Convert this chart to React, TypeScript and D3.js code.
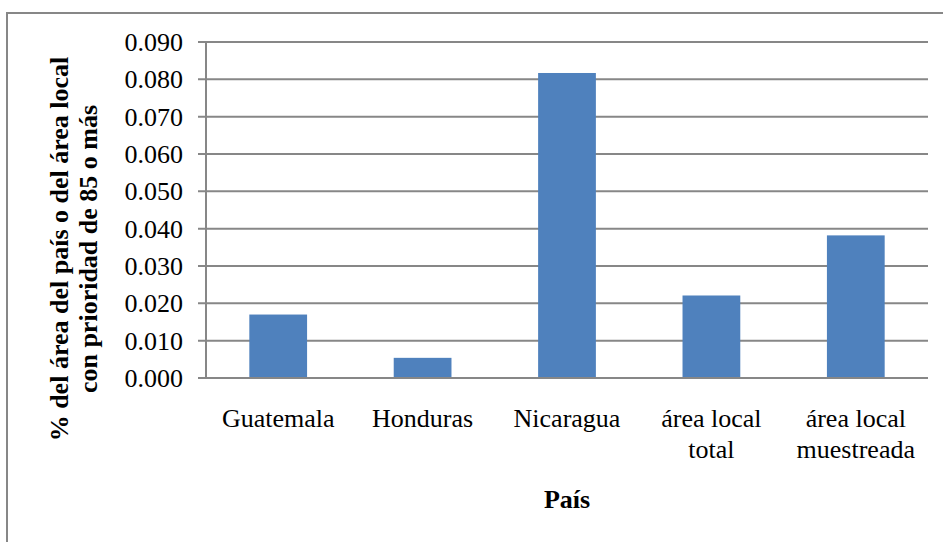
import React from "react";
import * as d3 from "d3";

const categories: string[][] = [
  ["Guatemala"],
  ["Honduras"],
  ["Nicaragua"],
  ["área local", "total"],
  ["área local", "muestreada"],
];
const values: number[] = [0.017, 0.0054, 0.0817, 0.0221, 0.0382];
const yTicks: number[] = [0, 0.01, 0.02, 0.03, 0.04, 0.05, 0.06, 0.07, 0.08, 0.09];
const yTitle: string[] = ["% del área del país o del área local", "con prioridad de 85 o más"];
const xTitle = "País";

export default function App() {
  const W = 943;
  const H = 542;
  const left = 206;
  const right = 928;
  const top = 42;
  const bottom = 378;
  const font = "'Liberation Serif', 'Times New Roman', serif";

  const x = d3
    .scaleBand<number>()
    .domain(categories.map((_, i) => i))
    .range([left, right])
    .paddingInner(0.6)
    .paddingOuter(0.3);
  const y = d3.scaleLinear().domain([0, 0.09]).range([bottom, top]);
  const fmt = d3.format(".3f");

  return (
    <svg
      width={W}
      height={H}
      style={{ position: "absolute", left: 0, top: 0, background: "#fff" }}
      fontFamily={font}
    >
      <rect x={0} y={0} width={W} height={H} fill="#fff" />
      <rect x={7} y={13} width={W + 20} height={H + 20} fill="none" stroke="#878787" strokeWidth={2} />
      {yTicks.map((t) => (
        <g key={t}>
          <line x1={198} x2={right} y1={y(t)} y2={y(t)} stroke="#878787" strokeWidth={2} />
          <text x={183} y={y(t)} dy="0.35em" textAnchor="end" fontSize={26} fill="#000">
            {fmt(t)}
          </text>
        </g>
      ))}
      <line x1={left} x2={left} y1={top} y2={bottom} stroke="#878787" strokeWidth={2} />
      {values.map((v, i) => (
        <rect
          key={i}
          x={x(i)}
          y={y(v)}
          width={x.bandwidth()}
          height={bottom - y(v)}
          fill="#4F81BD"
        />
      ))}
      <line x1={198} x2={right} y1={bottom} y2={bottom} stroke="#878787" strokeWidth={2} />
      {categories.map((lines, i) => (
        <text
          key={i}
          x={(x(i) as number) + x.bandwidth() / 2}
          y={427}
          textAnchor="middle"
          fontSize={26}
          fill="#000"
        >
          {lines.map((l, j) => (
            <tspan key={j} x={(x(i) as number) + x.bandwidth() / 2} dy={j === 0 ? 0 : 30.5}>
              {l}
            </tspan>
          ))}
        </text>
      ))}
      <text x={567} y={508} textAnchor="middle" fontSize={26} fontWeight="bold" fill="#000">
        {xTitle}
      </text>
      <g transform="translate(68,249) rotate(-90)">
        {yTitle.map((l, j) => (
          <text key={j} x={0} y={j * 29} textAnchor="middle" fontSize={26} fontWeight="bold" fill="#000">
            {l}
          </text>
        ))}
      </g>
    </svg>
  );
}
